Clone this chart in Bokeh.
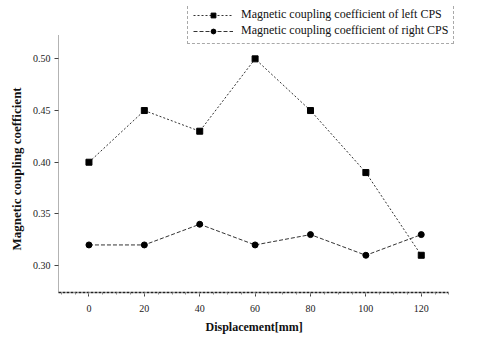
from bokeh.plotting import figure
from bokeh.models import Legend, LegendItem, Range1d, FixedTicker, NumeralTickFormatter, Title
from bokeh.embed import file_html
from bokeh.resources import INLINE

displacement = [0, 20, 40, 60, 80, 100, 120]
left_cps = [0.40, 0.45, 0.43, 0.50, 0.45, 0.39, 0.31]
right_cps = [0.32, 0.32, 0.34, 0.32, 0.33, 0.31, 0.33]
x_ticks = [0, 20, 40, 60, 80, 100, 120]
y_ticks = [0.30, 0.35, 0.40, 0.45, 0.50]

p = figure(width=485, height=339, output_backend="svg", toolbar_location=None,
           x_range=Range1d(-11, 143.2), y_range=Range1d(0.274, 0.5516),
           min_border_left=57, min_border_right=0, min_border_top=5, min_border_bottom=47)
p.outline_line_color = None
p.xgrid.visible = False
p.ygrid.visible = False

serif = "Liberation Serif"

r1 = p.line(displacement, left_cps, line_color="#333333", line_width=1, line_dash="2 2")
s1 = p.scatter(displacement, left_cps, marker="square", size=6, fill_color="black", line_color="black")
r2 = p.line(displacement, right_cps, line_color="#333333", line_width=1, line_dash="4 2")
s2 = p.scatter(displacement, right_cps, marker="circle", size=6, fill_color="black", line_color="black")

legend = Legend(items=[
    LegendItem(label="Magnetic coupling coefficient of left CPS", renderers=[r1, s1]),
    LegendItem(label="Magnetic coupling coefficient of right CPS", renderers=[r2, s2]),
], location=(129, 248))
legend.label_text_font = serif
legend.label_text_font_size = "12px"
legend.label_text_color = "#111111"
legend.glyph_width = 40
legend.glyph_height = 12
legend.label_height = 13
legend.spacing = 1
legend.padding = 5
legend.margin = 0
legend.border_line_color = "#555555"
legend.border_line_dash = "1 1"
legend.background_fill_alpha = 1
legend.label_standoff = 8
p.add_layout(legend, "center")

p.xaxis.ticker = FixedTicker(ticks=x_ticks, minor_ticks=list(range(-10, 131, 5)))
p.yaxis.ticker = FixedTicker(ticks=y_ticks)
p.yaxis.formatter = NumeralTickFormatter(format="0.00")
p.xaxis.bounds = (-11, 130)
p.yaxis.bounds = (0.274, 0.524)

for ax in (p.xaxis, p.yaxis):
    ax.major_label_text_font = serif
    ax.major_label_text_font_size = "10px"
    ax.major_label_text_color = "#222222"
    ax.major_tick_line_color = "#444444"
    ax.minor_tick_line_color = "#888888"

p.xaxis.axis_line_color = "#222222"
p.xaxis.axis_line_width = 1.5
p.xaxis.axis_line_dash = "3 1"
p.xaxis.major_tick_out = 4
p.xaxis.major_tick_in = 0
p.xaxis.minor_tick_out = 2
p.xaxis.minor_tick_in = 0
p.xaxis.major_label_standoff = 8
p.yaxis.axis_line_color = "#666666"
p.yaxis.axis_line_dash = "1 1"
p.yaxis.major_tick_out = 4
p.yaxis.major_tick_in = 0
p.yaxis.minor_tick_out = 0
p.yaxis.minor_tick_in = 0
p.yaxis.major_label_standoff = 4

xlabel = Title(text="Displacement[mm]", align="left", offset=147,
               text_font=serif, text_font_style="bold", text_font_size="12px",
               text_color="#111111", standoff=6)
p.add_layout(xlabel, "below")

ylabel = Title(text="Magnetic coupling coefficient", align="left", offset=42,
               text_font=serif, text_font_style="bold", text_font_size="13px",
               text_color="#111111", standoff=12)
p.add_layout(ylabel, "left")

open("out.html", "w").write(file_html(p, INLINE))
